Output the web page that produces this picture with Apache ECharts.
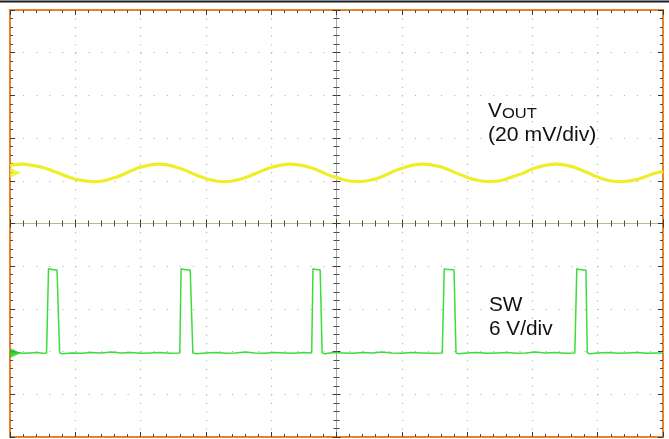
<!DOCTYPE html>
<html>
<head>
<meta charset="utf-8">
<script src="https://cdn.jsdelivr.net/npm/echarts@6/dist/echarts.min.js"></script>
<style>
html,body{margin:0;padding:0;background:#fff;}
#chart{width:669px;height:439px;}
</style>
</head>
<body>
<div id="chart"></div>
<script>
// Horizontal position in divisions (-5 .. 5), vertical in divisions (-5 .. 5)
var voutX = [-5.00,-4.92,-4.83,-4.72,-4.61,-4.49,-4.38,-4.27,-4.16,-4.05,-3.93,-3.82,
  -3.71,-3.61,-3.51,-3.41,-3.31,-3.21,-3.12,-3.02,-2.92,-2.82,
  -2.72,-2.62,-2.52,-2.42,-2.32,-2.22,-2.12,-2.02,-1.92,-1.82,
  -1.72,-1.62,-1.52,-1.42,-1.32,-1.21,-1.11,-1.01,-0.91,-0.81,
  -0.71,-0.61,-0.50,-0.40,-0.29,-0.19,-0.09,0.02,0.12,0.23,
  0.33,0.43,0.53,0.63,0.73,0.83,0.92,1.02,1.12,1.22,
  1.32,1.42,1.53,1.63,1.73,1.84,1.94,2.04,2.14,2.25,
  2.35,2.45,2.55,2.65,2.75,2.86,2.96,3.06,3.16,3.26,
  3.36,3.46,3.56,3.65,3.75,3.85,3.95,4.05,4.14,4.24,
  4.34,4.44,4.54,4.64,4.74,4.84,4.94,5.00];
var voutY = [1.36,1.38,1.39,1.38,1.35,1.31,1.25,1.19,1.12,1.06,1.02,0.99,
  0.98,0.99,1.02,1.07,1.12,1.19,1.25,1.31,1.35,1.38,
  1.39,1.38,1.35,1.30,1.25,1.18,1.12,1.06,1.02,0.99,
  0.98,0.99,1.02,1.06,1.12,1.19,1.25,1.31,1.35,1.38,
  1.39,1.38,1.35,1.31,1.25,1.18,1.12,1.07,1.02,0.99,
  0.98,0.99,1.02,1.06,1.12,1.19,1.25,1.30,1.35,1.38,
  1.39,1.38,1.35,1.31,1.25,1.18,1.12,1.06,1.02,0.99,
  0.98,0.99,1.02,1.07,1.12,1.18,1.25,1.31,1.35,1.38,
  1.39,1.38,1.35,1.31,1.25,1.19,1.12,1.06,1.02,0.99,
  0.98,0.99,1.01,1.05,1.10,1.16,1.20,1.22];

var swX = [-5.00,-4.90,-4.80,-4.70,-4.60,-4.50,-4.44,-4.41,-4.37,-4.32,-4.28,-4.24,
  -4.20,-4.05,-3.90,-3.75,-3.60,-3.45,-3.30,-3.15,-3.00,-2.85,-2.70,-2.55,-2.40,
  -2.38,-2.33,-2.28,-2.24,-2.20,
  -2.15,-2.00,-1.85,-1.70,-1.55,-1.40,-1.25,-1.10,-0.95,-0.80,-0.65,-0.50,-0.38,
  -0.36,-0.31,-0.25,-0.22,
  -0.18,-0.05,0.10,0.25,0.40,0.55,0.70,0.85,1.00,1.15,1.30,1.45,1.62,
  1.65,1.70,1.75,1.80,1.83,
  1.87,2.00,2.15,2.30,2.45,2.60,2.75,2.90,3.05,3.20,3.35,3.50,3.65,
  3.68,3.73,3.78,3.82,3.84,
  3.88,4.00,4.15,4.30,4.45,4.60,4.75,4.90,5.00];
var swY = [-3.03,-3.02,-3.04,-3.03,-3.02,-3.04,-3.03,-1.06,-1.07,-1.09,-1.09,-3.03,
  -3.05,-3.03,-3.04,-3.02,-3.03,-3.01,-3.03,-3.02,-3.04,-3.03,-3.02,-3.04,-3.03,
  -1.06,-1.08,-1.09,-1.09,-3.03,
  -3.05,-3.03,-3.02,-3.04,-3.03,-3.01,-3.03,-3.04,-3.02,-3.03,-3.04,-3.02,-3.03,
  -1.06,-1.08,-1.09,-3.03,
  -3.05,-3.02,-3.03,-3.04,-3.02,-3.03,-3.01,-3.03,-3.04,-3.02,-3.03,-3.04,-3.03,
  -1.06,-1.08,-1.08,-1.09,-3.03,
  -3.05,-3.03,-3.02,-3.04,-3.03,-3.02,-3.04,-3.03,-3.01,-3.03,-3.02,-3.04,-3.03,
  -1.06,-1.08,-1.09,-1.09,-3.03,
  -3.05,-3.03,-3.02,-3.04,-3.03,-3.02,-3.04,-3.03,-3.03];

var refLevels = { vout: 1.19, sw: -3.03 };

function pairs(xs, ys){ return xs.map(function(x,i){ return [x, ys[i]]; }); }

var FONT = '"Liberation Sans", Arial, sans-serif';
var ORANGE = '#e8822a';

function xAx(pos, onZero, inside, showLine, split, tickLen, minorLen, lineColor){
  return {
    type:'value', min:-5, max:5, interval:1, position:pos,
    axisLabel:{show:false},
    axisLine:{show:showLine, onZero:onZero, lineStyle:{color:lineColor||'#bdb08e', width:1}},
    axisTick:{show:true, inside:inside, length:tickLen, lineStyle:{color:'#3a3a3a', width:1}},
    minorTick:{show:true, splitNumber:5, length:minorLen, lineStyle:{color:'#4a4a4a', width:1}},
    splitLine:{show:split, lineStyle:{color:'#b8b8b8', width:1.2, type:[1.2, 7.34]}},
    minorSplitLine:{show:false}
  };
}
function yAx(pos, onZero, inside, showLine, split, tickLen, minorLen, lineColor){
  return {
    type:'value', min:-5, max:5, interval:1, position:pos,
    axisLabel:{show:false},
    axisLine:{show:showLine, onZero:onZero, lineStyle:{color:lineColor||'#a9a9a9', width:1}},
    axisTick:{show:true, inside:inside, length:tickLen, lineStyle:{color:'#3a3a3a', width:1}},
    minorTick:{show:true, splitNumber:5, length:minorLen, lineStyle:{color:'#4a4a4a', width:1}},
    splitLine:{show:split, lineStyle:{color:'#b8b8b8', width:1.2, type:[1.2, 11.86]}},
    minorSplitLine:{show:false}
  };
}

var chart = echarts.init(document.getElementById('chart'), null, {renderer:'canvas'});
chart.setOption({
  animation:false,
  backgroundColor:'#ffffff',
  grid:{left:10, right:6, top:10, bottom:2, show:true, borderColor:ORANGE, borderWidth:2, backgroundColor:'transparent'},
  xAxis:[
    xAx('bottom', false, true, false, true, 5, 3),
    xAx('top', false, true, false, false, 5, 3),
    xAx('bottom', true, false, true, false, 4, 3, '#c2b48f'),
    xAx('top', true, false, false, false, 4, 3)
  ],
  yAxis:[
    yAx('left', false, true, false, true, 5, 3),
    yAx('right', false, true, false, false, 5, 3),
    yAx('left', true, false, true, false, 4, 3, '#a6a6a6'),
    yAx('right', true, false, false, false, 4, 3)
  ],
  series:[
    {type:'line', name:'VOUT', data:pairs(voutX, voutY), showSymbol:false, smooth:0.3,
     lineStyle:{color:'#eeee28', width:3.2}, z:5, silent:true},
    {type:'line', name:'SW', data:pairs(swX, swY), showSymbol:false,
     lineStyle:{color:'#3ddc3d', width:1.5}, z:6, silent:true},
    {type:'scatter', data:[[-5, refLevels.vout]], symbol:'path://M0,0 L10,5 L0,10 Z',
     symbolSize:[11,10], symbolOffset:[5.5,0], itemStyle:{color:'#eeee20'}, z:7, silent:true},
    {type:'scatter', data:[[-5, refLevels.sw]], symbol:'path://M0,0 L10,5 L0,10 Z',
     symbolSize:[11,10], symbolOffset:[5.5,0], itemStyle:{color:'#22cc22'}, z:7, silent:true}
  ],
  graphic:[
    {type:'rect', shape:{x:0, y:0.5, width:669, height:2}, style:{fill:'#1a1a1a'}, silent:true},
    {type:'text', x:488, y:101.3, scaleX:1.04, style:{text:'V', font:'20px '+FONT, fill:'#111', verticalAlign:'top'}},
    {type:'text', x:502, y:107.6, scaleX:1.18, style:{text:'OUT', font:'14px '+FONT, fill:'#111', verticalAlign:'top'}},
    {type:'text', x:488, y:125.5, scaleX:1.06, style:{text:'(20 mV/div)', font:'20px '+FONT, fill:'#111', verticalAlign:'top'}},
    {type:'text', x:489, y:295.7, scaleX:1.04, style:{text:'SW', font:'20px '+FONT, fill:'#111', verticalAlign:'top'}},
    {type:'text', x:489, y:319.7, scaleX:1.04, style:{text:'6 V/div', font:'20px '+FONT, fill:'#111', verticalAlign:'top'}}
  ]
});
</script>
</body>
</html>
